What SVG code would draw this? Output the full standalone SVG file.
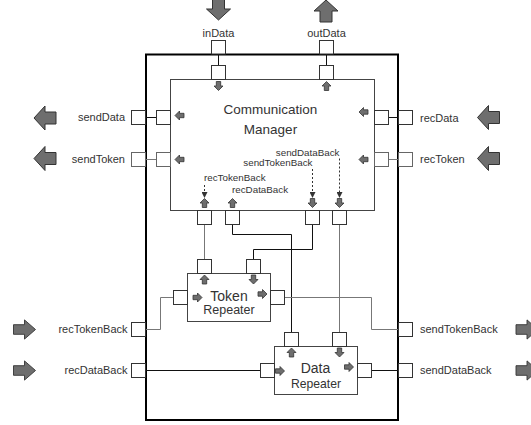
<svg xmlns="http://www.w3.org/2000/svg" xmlns:xlink="http://www.w3.org/1999/xlink" width="531" height="425" viewBox="0 0 531 425">
  <style>
    .outer { fill: #fff; stroke: #000; stroke-width: 2; }
    .box { fill: #fff; stroke: #444; stroke-width: 1; }
    .port { fill: #fff; stroke: #333; stroke-width: 1; }
    .portg { fill: #fff; stroke: #666; stroke-width: 1; }
    .big { fill: #6e6e6e; stroke: #333; stroke-width: 1; }
    .small { fill: #6e6e6e; stroke: #333; stroke-width: 0.8; }
    .wire { fill: none; stroke: #111; stroke-width: 1; }
    .wireg { fill: none; stroke: #777; stroke-width: 1; }
    .dots { fill: none; stroke: #333; stroke-width: 1; stroke-dasharray: 2 2; }
    .lbl { font-family: "Liberation Sans", Arial, sans-serif; font-size: 11px; fill: #333; }
    .ilbl { font-family: "Liberation Sans", Arial, sans-serif; font-size: 9.8px; fill: #333; }
    .title { font-family: "Liberation Sans", Arial, sans-serif; font-size: 13.5px; fill: #333; text-anchor: middle; }
    .sub { font-family: "Liberation Sans", Arial, sans-serif; font-size: 12.5px; fill: #333; text-anchor: middle; }
  </style>
  <defs>
    <!-- block arrows, drawn pointing right and centred on the origin -->
    <path id="bigArrow" d="M-11,-6 H0 V-12 L11,0 L0,12 V6 H-11 Z"/>
    <path id="smallArrow" d="M-4.5,-2.2 H0 V-4.5 L4.5,0 L0,4.5 V2.2 H-4.5 Z"/>
    <marker id="tip" markerWidth="6" markerHeight="6" refX="5" refY="3" orient="auto" markerUnits="userSpaceOnUse">
      <path d="M0,0 L6,3 L0,6 Z" fill="#333"/>
    </marker>
  </defs>

  <!-- enclosing component -->
  <g id="system">
    <rect class="outer" x="146" y="54.5" width="252" height="365.5"/>
  </g>

  <!-- external stimulus arrows -->
  <g id="externalArrows">
    <use xlink:href="#bigArrow" class="big" transform="translate(218.5,9) rotate(90)"/>
    <use xlink:href="#bigArrow" class="big" transform="translate(326,11) rotate(-90)"/>
    <use xlink:href="#bigArrow" class="big" transform="translate(45,118) rotate(180)"/>
    <use xlink:href="#bigArrow" class="big" transform="translate(45,158.5) rotate(180)"/>
    <use xlink:href="#bigArrow" class="big" transform="translate(488.5,117.5) rotate(180)"/>
    <use xlink:href="#bigArrow" class="big" transform="translate(488.5,158.5) rotate(180)"/>
    <use xlink:href="#bigArrow" class="big" transform="translate(24.5,329.5) scale(1,0.8)"/>
    <use xlink:href="#bigArrow" class="big" transform="translate(24.5,370.5) scale(1,0.8)"/>
    <use xlink:href="#bigArrow" class="big" transform="translate(527,329.5) scale(1,0.8)"/>
    <use xlink:href="#bigArrow" class="big" transform="translate(527,370.5) scale(1,0.8)"/>
  </g>

  <!-- connectors -->
  <g id="connectors">
    <path class="wire" d="M218.5,54 V65.5"/>
    <path class="wire" d="M326.5,54 V65.5"/>
    <path class="wire" d="M146,117.5 H156.5"/>
    <path class="wireg" d="M146,159.5 H156.5"/>
    <path class="wire" d="M388.5,117.5 H398.5"/>
    <path class="wireg" d="M388.5,159.5 H398.5"/>
    <path class="wireg" d="M204.5,224.5 V259.5"/>
    <path class="wire" d="M232.5,224.5 V234.5 H291.5 V332.5"/>
    <path class="wire" d="M312.5,224.5 V249.5 H253.5 V259.5"/>
    <path class="wireg" d="M339.5,224.5 V332.5"/>
    <path class="wireg" d="M284.5,297.5 H371.5 V329.5 H398.5"/>
    <path class="wire" d="M371.5,370.5 H398.5"/>
    <path class="wireg" d="M146,329.5 H160.5 V297.5 H173.5"/>
    <path class="wire" d="M146,370.5 H260.5"/>
  </g>

  <!-- Communication Manager -->
  <g id="communicationManager">
    <rect class="box" x="170.5" y="79.5" width="204" height="131"/>
    <text class="title" x="270.5" y="114">Communication</text>
    <text class="title" x="270.5" y="134">Manager</text>
    <!-- ports -->
    <rect class="port" x="211.5" y="65.5" width="14" height="14"/>
    <rect class="port" x="319.5" y="65.5" width="14" height="14"/>
    <rect class="port" x="156.5" y="110.5" width="14" height="14"/>
    <rect class="portg" x="156.5" y="152.5" width="14" height="14"/>
    <rect class="port" x="374.5" y="110.5" width="14" height="14"/>
    <rect class="portg" x="374.5" y="152.5" width="14" height="14"/>
    <rect class="port" x="197.5" y="210.5" width="14" height="14"/>
    <rect class="port" x="225.5" y="210.5" width="14" height="14"/>
    <rect class="port" x="305.5" y="210.5" width="14" height="14"/>
    <rect class="port" x="332.5" y="210.5" width="14" height="14"/>
    <!-- port direction marks -->
    <use xlink:href="#smallArrow" class="small" transform="translate(218.5,86) rotate(90)"/>
    <use xlink:href="#smallArrow" class="small" transform="translate(326.5,86) rotate(-90)"/>
    <use xlink:href="#smallArrow" class="small" transform="translate(179.5,115.5) rotate(180)"/>
    <use xlink:href="#smallArrow" class="small" transform="translate(179.5,159.5) rotate(180)"/>
    <use xlink:href="#smallArrow" class="small" transform="translate(363.5,112) rotate(180)"/>
    <use xlink:href="#smallArrow" class="small" transform="translate(363.5,159.5) rotate(180)"/>
    <use xlink:href="#smallArrow" class="small" transform="translate(204.5,203) rotate(-90)"/>
    <use xlink:href="#smallArrow" class="small" transform="translate(232.5,203) rotate(-90)"/>
    <use xlink:href="#smallArrow" class="small" transform="translate(312.5,203) rotate(90)"/>
    <use xlink:href="#smallArrow" class="small" transform="translate(339.5,203) rotate(90)"/>
    <!-- internal signal labels -->
    <text class="ilbl" x="339.5" y="155.5" text-anchor="end">sendDataBack</text>
    <text class="ilbl" x="312.5" y="165.5" text-anchor="end">sendTokenBack</text>
    <text class="ilbl" x="204" y="180.5">recTokenBack</text>
    <text class="ilbl" x="232" y="193">recDataBack</text>
    <path class="dots" d="M204.5,185 V197" marker-end="url(#tip)"/>
    <path class="dots" d="M312.5,169 V197" marker-end="url(#tip)"/>
    <path class="dots" d="M339.5,158.5 V197" marker-end="url(#tip)"/>
  </g>

  <!-- Token Repeater -->
  <g id="tokenRepeater">
    <rect class="box" x="187.5" y="273.5" width="83" height="48"/>
    <text class="title" x="229" y="301" style="font-size:14px">Token</text>
    <text class="sub" x="229" y="314">Repeater</text>
    <rect class="port" x="197.5" y="259.5" width="14" height="14"/>
    <rect class="port" x="246.5" y="259.5" width="14" height="14"/>
    <rect class="port" x="173.5" y="290.5" width="14" height="14"/>
    <rect class="port" x="270.5" y="290.5" width="14" height="14"/>
    <use xlink:href="#smallArrow" class="small" transform="translate(204.5,279.5) rotate(-90)"/>
    <use xlink:href="#smallArrow" class="small" transform="translate(253.5,279.5) rotate(90)"/>
    <use xlink:href="#smallArrow" class="small" transform="translate(197.5,297.5)"/>
    <use xlink:href="#smallArrow" class="small" transform="translate(262.5,294)"/>
  </g>

  <!-- Data Repeater -->
  <g id="dataRepeater">
    <rect class="box" x="274.5" y="346.5" width="83" height="48"/>
    <text class="title" x="315.5" y="373" style="font-size:14px">Data</text>
    <text class="sub" x="316" y="387.5" style="font-size:12.2px">Repeater</text>
    <rect class="port" x="284.5" y="332.5" width="14" height="14"/>
    <rect class="port" x="332.5" y="332.5" width="14" height="14"/>
    <rect class="port" x="260.5" y="363.5" width="14" height="14"/>
    <rect class="port" x="357.5" y="363.5" width="14" height="14"/>
    <use xlink:href="#smallArrow" class="small" transform="translate(291.5,352.5) rotate(-90)"/>
    <use xlink:href="#smallArrow" class="small" transform="translate(339.5,352.5) rotate(90)"/>
    <use xlink:href="#smallArrow" class="small" transform="translate(280,371)"/>
    <use xlink:href="#smallArrow" class="small" transform="translate(349,367)"/>
  </g>

  <!-- boundary ports of the enclosing component -->
  <g id="inData">
    <rect class="port" x="211.5" y="40.5" width="14" height="13.5"/>
    <text class="lbl" x="218.5" y="37" text-anchor="middle">inData</text>
  </g>
  <g id="outData">
    <rect class="port" x="319.5" y="40.5" width="14" height="13.5"/>
    <text class="lbl" x="326.5" y="37" text-anchor="middle">outData</text>
  </g>
  <g id="sendData">
    <rect class="port" x="131.5" y="110.5" width="14" height="14"/>
    <text class="lbl" x="125" y="121" text-anchor="end">sendData</text>
  </g>
  <g id="sendToken">
    <rect class="portg" x="131.5" y="152.5" width="14" height="14"/>
    <text class="lbl" x="125" y="163" text-anchor="end">sendToken</text>
  </g>
  <g id="recData">
    <rect class="port" x="398.5" y="110.5" width="14" height="14"/>
    <text class="lbl" x="420" y="121.5">recData</text>
  </g>
  <g id="recToken">
    <rect class="portg" x="398.5" y="152.5" width="14" height="14"/>
    <text class="lbl" x="420" y="163">recToken</text>
  </g>
  <g id="recTokenBack">
    <rect class="port" x="131.5" y="322.5" width="14" height="14"/>
    <text class="lbl" x="127.5" y="333" text-anchor="end">recTokenBack</text>
  </g>
  <g id="recDataBack">
    <rect class="port" x="131.5" y="363.5" width="14" height="14"/>
    <text class="lbl" x="127.5" y="374" text-anchor="end">recDataBack</text>
  </g>
  <g id="sendTokenBack">
    <rect class="port" x="398.5" y="322.5" width="14" height="14"/>
    <text class="lbl" x="420" y="333">sendTokenBack</text>
  </g>
  <g id="sendDataBack">
    <rect class="port" x="398.5" y="363.5" width="14" height="14"/>
    <text class="lbl" x="420" y="374">sendDataBack</text>
  </g>
</svg>
